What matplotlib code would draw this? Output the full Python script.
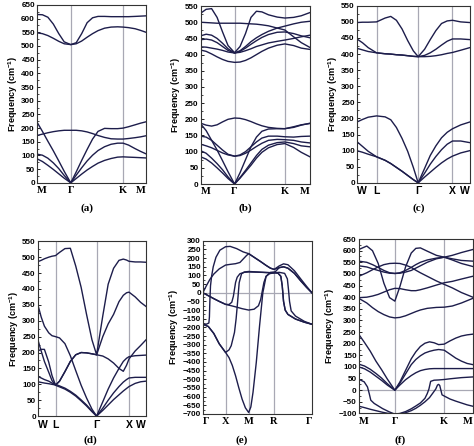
import matplotlib
matplotlib.use("Agg")
import matplotlib.pyplot as plt
from matplotlib.ticker import MultipleLocator

plt.rcParams['font.family'] = ['Liberation Sans', 'DejaVu Sans']
plt.rcParams['font.weight'] = 'bold'
plt.rcParams['mathtext.fontset'] = 'custom'
plt.rcParams['mathtext.rm'] = 'Liberation Sans:bold'
plt.rcParams['mathtext.default'] = 'rm'

LINE = '#1d1d4b'
GREY = '#a8a8b4'
SERIF = 'Liberation Serif'

# ---------------- (a) ----------------
xa = [0, .05, .10, .15, .20, .25, .31, .36, .41, .46, .51, .56, .62, .68, .74, .79, .84, .90, .95, 1.0]
a_bands = [
    [615, 614, 605, 580, 545, 515, 505, 512, 545, 585, 603, 608, 608, 607, 607, 607, 607, 608, 609, 610],
    [548, 545, 538, 528, 517, 508, 505, 508, 518, 532, 545, 556, 565, 569, 570, 569, 567, 563, 557, 550],
    [222, 188, 152, 117, 80, 42, 0, 40, 82, 122, 160, 188, 199, 198, 198, 200, 205, 212, 218, 223],
    [173, 178, 183, 187, 190, 192, 192, 192, 190, 186, 180, 173, 166, 161, 160, 160, 162, 165, 168, 172],
    [105, 101, 90, 73, 52, 27, 0, 28, 55, 80, 101, 118, 132, 141, 145, 145, 138, 125, 115, 106],
    [88, 78, 64, 49, 33, 17, 0, 16, 32, 47, 60, 72, 82, 89, 94, 95, 94, 93, 92, 91],
]
a_ticks = [0, .31, .79, 1]
a_labels = ['M', 'Γ', 'K', 'M']

# ---------------- (b) ----------------
xb = [0, .05, .1, .15, .2, .25, .31, .36, .41, .46, .51, .56, .62, .7, .77, .85, .92, 1.0]
b_bands = [
    [528, 540, 542, 515, 470, 428, 406, 425, 465, 515, 534, 532, 523, 516, 513, 515, 520, 530],
    [500, 499, 498, 497, 497, 497, 497, 497, 496, 495, 494, 492, 489, 482, 476, 455, 437, 422],
    [458, 463, 460, 450, 435, 418, 405, 412, 425, 440, 452, 462, 472, 482, 488, 495, 500, 503],
    [446, 448, 445, 437, 425, 413, 405, 410, 420, 432, 443, 453, 462, 469, 470, 465, 458, 452],
    [424, 423, 420, 417, 413, 408, 405, 407, 412, 418, 425, 430, 436, 441, 445, 450, 455, 460],
    [414, 410, 402, 393, 385, 379, 376, 377, 382, 390, 400, 410, 420, 429, 433, 428, 420, 416],
    [188, 182, 179, 183, 192, 200, 204, 203, 199, 193, 186, 180, 175, 172, 171, 175, 182, 188],
    [186, 165, 135, 105, 72, 38, 0, 35, 75, 115, 145, 163, 170, 171, 171, 177, 183, 187],
    [148, 145, 135, 120, 105, 92, 86, 90, 100, 115, 130, 142, 148, 148, 146, 145, 147, 148],
    [123, 118, 112, 104, 96, 90, 86, 88, 95, 105, 116, 126, 135, 138, 137, 135, 130, 127],
    [103, 95, 80, 63, 44, 22, 0, 20, 42, 65, 88, 107, 120, 128, 130, 125, 118, 115],
    [84, 77, 65, 50, 34, 17, 0, 18, 38, 58, 80, 98, 112, 122, 125, 113, 98, 84],
]
b_ticks = [0, .31, .77, 1]
b_labels = ['M', 'Γ', 'K', 'M']

# ---------------- (c) ----------------
xc = [0, .05, .1, .174, .25, .3, .35, .4, .45, .5, .543, .6, .65, .7, .75, .8, .847, .92, 1.0]
c_bands = [
    [498, 499, 499, 500, 512, 517, 505, 478, 442, 410, 392, 415, 445, 473, 495, 503, 505, 500, 498],
    [447, 435, 420, 404, 401, 400, 398, 397, 395, 393, 392, 396, 404, 415, 428, 440, 447, 447, 445],
    [418, 413, 408, 404, 401, 400, 398, 397, 395, 393, 392, 392, 393, 395, 398, 402, 405, 412, 420],
    [189, 197, 204, 208, 205, 196, 172, 138, 98, 48, 0, 45, 85, 115, 140, 157, 168, 180, 189],
    [128, 113, 98, 81, 70, 60, 48, 36, 23, 10, 0, 30, 58, 82, 103, 120, 130, 130, 125],
    [100, 95, 89, 81, 70, 60, 48, 36, 23, 10, 0, 18, 33, 48, 62, 74, 83, 93, 100],
]
c_ticks = [0, .174, .543, .847, 1]
c_labels = ['W', 'L', 'Γ', 'X', 'W']

# ---------------- (d) ----------------
xd = [0, .03, .06, .1, .13, .163, .2, .25, .3, .35, .4, .45, .5, .543,
      .6, .65, .7, .75, .79, .82, .843, .9, .95, 1.0]
d_bands = [
    [486, 490, 495, 500, 503, 505, 515, 527, 528, 472, 405, 320, 240, 193,
     315, 415, 465, 490, 494, 491, 487, 485, 485, 484],
    [350, 312, 283, 262, 253, 250, 246, 228, 190, 143, 97, 57, 22, 0,
     45, 85, 120, 150, 172, 182, 187, 190, 191, 192],
    [240, 205, 172, 138, 112, 97, 110, 140, 172, 193, 200, 199, 196, 193,
     189, 180, 167, 150, 141, 160, 180, 205, 222, 240],
    [205, 210, 210, 170, 128, 97, 92, 85, 75, 63, 48, 32, 14, 0,
     25, 50, 73, 93, 107, 115, 120, 122, 122, 122],
    [125, 120, 115, 110, 104, 100, 95, 88, 78, 66, 51, 35, 16, 0,
     18, 35, 52, 67, 79, 87, 93, 103, 108, 110],
    [108, 106, 104, 102, 100, 98, 110, 140, 172, 193, 200, 199, 196, 193,
     250, 290, 320, 360, 380, 388, 390, 375, 358, 345],
]
d_ticks = [0, .163, .543, .843, 1]
d_labels = ['W', 'L', 'Γ', 'X', 'W']

# ---------------- (e) ----------------
e1_x = [0, .03, .055, .06, .064, .07, .08, .095, .12, .156, .208, .25, .31, .37, .42, .47, .53,
        .58, .62, .654, .7, .74, .78, .84, .9, .95, 1]
e1_y = [-182, -182, -175, -140, -50, 40, 95, 150, 205, 246, 266, 268, 255, 236, 226, 205, 180,
        158, 142, 135, 155, 167, 162, 127, 78, 38, 0]
e2_x = [0, .03, .064, .1, .15, .208, .25, .3, .34, .37, .4, .42, .47, .53, .58, .62, .654,
        .7, .74, .78, .84, .9, .95, 1]
e2_y = [0, 38, 77, 108, 138, 160, 164, 168, 175, 195, 215, 226, 205, 180, 158, 142, 135,
        145, 150, 142, 112, 67, 32, 0]
e3_x = [0, .05, .1, .15, .208, .26, .31, .36, .42, .47, .51, .53, .545, .56, .58, .61, .654,
        .69, .715, .728, .74, .755, .78, .85, .93, 1]
e3_y = [0, -17, -34, -50, -67, -75, -83, -92, -100, -95, -75, -40, 10, 60, 95, 110, 115,
        113, 95, 40, -50, -100, -125, -152, -170, -182]
e4_x = [0, .05, .1, .15, .208, .24, .265, .28, .29, .3, .315, .34, .38, .42, .5, .58, .654,
        .7, .75, .775, .785, .795, .81, .85, .93, 1]
e4_y = [0, -17, -34, -50, -67, -68, -55, -20, 20, 60, 90, 110, 118, 120, 119, 117, 115,
        118, 112, 80, 20, -50, -105, -135, -165, -182]
e5_x = [0, .05, .1, .15, .208, .24, .26, .29, .305, .318, .333, .355, .38, .42, .5, .58, .654,
        .7, .74, .78, .84, .9, .95, 1]
e5_y = [-182, -195, -235, -295, -345, -330, -306, -229, -150, -57, 58, 110, 120, 123, 120, 117, 115,
        145, 150, 142, 112, 67, 32, 0]
e6_x = [0, .05, .1, .15, .208, .24, .27, .3, .33, .36, .39, .42, .44, .46, .49, .52, .55, .58, .62,
        .654, .69, .715, .728, .74, .755, .78, .85, .93, 1]
e6_y = [-182, -195, -235, -295, -345, -375, -420, -480, -550, -615, -665, -692, -660, -575, -402,
        -191, 0, 95, 118, 120, 113, 95, 40, -50, -100, -125, -152, -170, -182]
e_ticks = [0, .208, .422, .652, 1]
e_labels = ['Γ', 'X', 'M', 'R', 'Γ']

# ---------------- (f) ----------------
xf = [0, .07, .12, .17, .22, .27, .316, .36, .41, .46, .5, .54, .6, .68, .749, .82, .9, 1]
f_bands = [
    [605, 620, 600, 545, 460, 398, 383, 445, 530, 590, 610, 612, 598, 580, 572, 565, 558, 555],
    [555, 550, 540, 528, 515, 505, 502, 505, 515, 528, 540, 550, 560, 568, 572, 580, 592, 605],
    [535, 530, 522, 515, 508, 503, 502, 503, 508, 515, 525, 535, 550, 565, 572, 560, 545, 532],
    [490, 505, 518, 530, 540, 545, 546, 545, 538, 528, 516, 505, 490, 470, 455, 440, 420, 400],
    [398, 400, 405, 412, 422, 432, 438, 437, 432, 428, 428, 432, 440, 452, 462, 468, 478, 490],
    [395, 375, 355, 338, 325, 315, 311, 313, 320, 330, 338, 345, 352, 356, 357, 362, 375, 395],
]
xg = [0, .05, .1, .15, .2, .25, .316, .36, .41, .46, .5, .54, .58, .62, .66, .7, .749, .8, .85, .9, .95, 1]
g_bands = [
    [240, 205, 168, 125, 88, 48, 0, 35, 85, 135, 165, 188, 202, 208, 204, 196, 198, 212, 224, 233, 238, 241],
    [112, 104, 90, 72, 52, 28, 0, 30, 70, 110, 132, 148, 160, 167, 172, 175, 172, 155, 138, 125, 115, 110],
    [100, 92, 78, 60, 42, 22, 0, 22, 45, 63, 75, 84, 89, 92, 93, 93, 93, 93, 93, 93, 93, 93],
]
g4_x = [0, .047, .076, .091, .105, .135, .208, .266, .316, .36, .41, .46, .5, .54, .58, .6, .615,
        .63, .66, .7, .749, .8, .9, 1]
g4_y = [47, 36, 14, -14, -43, -57, -79, -93, -103, -100, -92, -80, -68, -55, -35, -15, 5,
        38, 43, 44, 46, 49, 54, 57]
g5_x = [0, .05, .1, .15, .2, .25, .316, .36, .41, .46, .5, .54, .58, .62, .65, .675, .69, .70,
        .71, .72, .73, .749, .8, .85, .9, .95, 1]
g5_y = [-69, -75, -82, -88, -94, -99, -103, -102, -97, -88, -78, -65, -50, -32, -12, 5, 22, 25,
        20, 0, -20, -25, -38, -47, -55, -63, -69]
f_ticks = [0, .316, .749, 1]
f_labels = ['M', 'Γ', 'K', 'M']


def panel(rect, lines, ticks, labels, ylim, serif_labels, zero=False):
    ax = fig.add_axes(rect)
    for t in ticks[1:-1]:
        ax.axvline(t, color=GREY, lw=0.9, zorder=1)
    if zero:
        ax.axhline(0, color=GREY, lw=0.9, zorder=1)
    for xs, ys in lines:
        ax.plot(xs, ys, color=LINE, lw=1.0, zorder=2)
    ax.set_xlim(0, 1)
    ax.set_ylim(*ylim)
    ax.yaxis.set_major_locator(MultipleLocator(50))
    ax.yaxis.set_minor_locator(MultipleLocator(25))
    ax.tick_params(axis='y', which='major', direction='in', length=2.5, width=0.6,
                   labelsize=5.8, pad=1.5)
    ax.tick_params(axis='y', which='minor', direction='in', length=1.3, width=0.5)
    ax.tick_params(axis='x', length=0, pad=2.5)
    ax.set_xticks(ticks)
    if serif_labels:
        ax.set_xticklabels(labels, fontfamily=SERIF, fontsize=7.5, fontweight='bold')
    else:
        ax.set_xticklabels(labels, fontsize=7.5, fontweight='bold')
    tl = ax.get_xticklabels()
    tl[0].set_ha('left')
    tl[-1].set_ha('right')
    for s in ax.spines.values():
        s.set_linewidth(0.8)
        s.set_color('#333333')
    ax.set_ylabel('Frequency (cm$^{-1}$)', fontsize=6.5, fontweight='bold', labelpad=1)
    return ax


fig = plt.figure(figsize=(4.74, 4.46), dpi=100)

panel([0.078, 0.590, 0.230, 0.399], [(xa, y) for y in a_bands], a_ticks, a_labels, (0, 650), True)
panel([0.4234, 0.5874, 0.2306, 0.399], [(xb, y) for y in b_bands], b_ticks, b_labels, (0, 550), True)
panel([0.753, 0.590, 0.238, 0.397], [(xc, y) for y in c_bands], c_ticks, c_labels, (0, 550), False)
panel([0.080, 0.067, 0.228, 0.392], [(xd, y) for y in d_bands], d_ticks, d_labels, (0, 550), False)
e_lines = [(e1_x, e1_y), (e2_x, e2_y), (e3_x, e3_y), (e4_x, e4_y), (e5_x, e5_y), (e6_x, e6_y)]
panel([0.428, 0.072, 0.230, 0.388], e_lines, e_ticks, e_labels, (-700, 300), True, zero=True)
f_lines = [(xf, y) for y in f_bands] + [(xg, y) for y in g_bands] + [(g4_x, g4_y), (g5_x, g5_y)]
panel([0.757, 0.073, 0.2405, 0.391], f_lines, f_ticks, f_labels, (-100, 650), True, zero=True)

for x, y, s in [(.183, .534, '(a)'), (.517, .534, '(b)'), (.884, .534, '(c)'),
                (.19, .013, '(d)'), (.509, .013, '(e)'), (.844, .013, '(f)')]:
    fig.text(x, y, s, ha='center', va='center', fontfamily=SERIF, fontsize=8, fontweight='bold')

fig.savefig('out.png', dpi=100)
